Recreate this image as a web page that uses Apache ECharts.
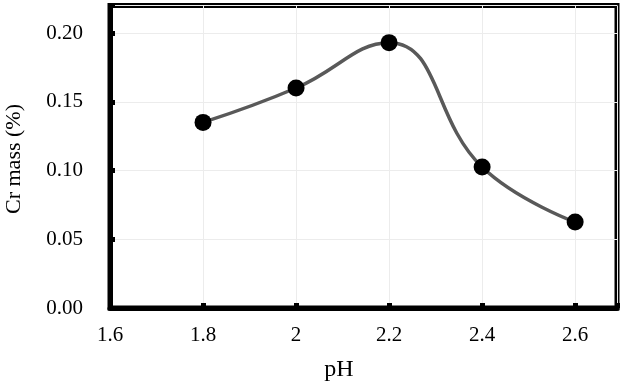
<!DOCTYPE html>
<html><head><meta charset="utf-8">
<script src="https://cdn.jsdelivr.net/npm/echarts@6/dist/echarts.min.js"></script>
<style>html,body{margin:0;padding:0;background:#fff}#c{width:624px;height:384px}</style>
</head><body><div id="c"></div>
<script>
const phValues = [1.8, 2.0, 2.2, 2.4, 2.6];
const crMass = [0.135, 0.160, 0.193, 0.1025, 0.0625];
const xName = 'pH';
const yName = 'Cr mass (%)';

const chart = echarts.init(document.getElementById('c'));
const font = 'Liberation Serif';
chart.setOption({
  animation: false,
  grid: {left: 110, right: 7, top: 5.5, bottom: 76, show: true, borderColor: '#000', borderWidth: 5},
  xAxis: {
    type: 'value', min: 1.6, max: 2.69, interval: 0.2,
    axisLine: {show: true, lineStyle: {color: '#000', width: 5}},
    axisTick: {show: true, inside: true, length: 5, lineStyle: {color: '#000', width: 5}},
    splitLine: {show: true, lineStyle: {color: '#ececec', width: 1}},
    axisLabel: {fontFamily: font, fontSize: 21, color: '#000', margin: 17,
      formatter: v => (v > 2.65 ? '' : String(+v.toFixed(1)))}
  },
  yAxis: {
    type: 'value', min: 0, max: 0.22, interval: 0.05,
    axisLine: {show: true, lineStyle: {color: '#000', width: 5}},
    axisTick: {show: true, inside: true, length: 5, lineStyle: {color: '#000', width: 5}},
    splitLine: {show: true, lineStyle: {color: '#ececec', width: 1}},
    axisLabel: {fontFamily: font, fontSize: 21, color: '#000', margin: 27,
      formatter: v => (v > 0.21 ? '' : v.toFixed(2))}
  },
  graphic: [
    {type: 'text', x: 339, y: 370, style: {text: xName, fontFamily: font, fontSize: 24, fill: '#000', align: 'center', verticalAlign: 'middle'}},
    {type: 'text', x: 14, y: 159, rotation: Math.PI / 2,
      style: {text: yName, fontFamily: font, fontSize: 22, fill: '#000', align: 'center', verticalAlign: 'middle'}}
  ],
  series: [{
    type: 'line', smooth: 0.45,
    data: phValues.map((x, i) => [x, crMass[i]]),
    lineStyle: {color: '#595959', width: 3.5},
    symbol: 'circle', symbolSize: 17,
    itemStyle: {color: '#000', borderWidth: 0}
  }]
});
</script></body></html>
